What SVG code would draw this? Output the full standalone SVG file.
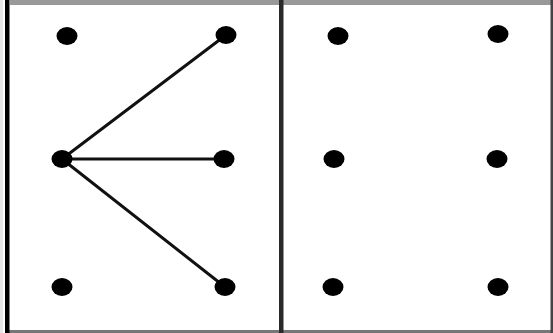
<svg xmlns="http://www.w3.org/2000/svg" width="553" height="333" viewBox="0 0 553 333">
<style>
.dot{fill:#000}
.edge{stroke:#111;stroke-width:3;fill:none;stroke-linecap:round}
</style>
<rect x="0" y="0" width="553" height="333" fill="#fff"/>
<rect x="0" y="0" width="3" height="333" fill="#e6e6e6"/>
<rect x="10" y="0" width="543" height="5" fill="#999"/>
<rect x="5" y="330" width="548" height="3" fill="#777"/>
<rect x="5" y="0" width="4.5" height="333" fill="#000"/>
<rect x="550.5" y="0" width="2.5" height="333" fill="#444"/>
<rect x="279" y="0" width="4.5" height="333" fill="#2a2a2a"/>
<g id="connectors">
<line class="edge" x1="62" y1="159" x2="226" y2="35"/>
<line class="edge" x1="62" y1="159" x2="224" y2="159"/>
<line class="edge" x1="62" y1="159" x2="225" y2="287"/>
</g>
<g id="n1"><ellipse class="dot" cx="67" cy="36" rx="10.5" ry="9"/></g>
<g id="n2"><ellipse class="dot" cx="226" cy="35" rx="10.5" ry="9"/></g>
<g id="n3"><ellipse class="dot" cx="62" cy="159" rx="10.5" ry="9"/></g>
<g id="n4"><ellipse class="dot" cx="224" cy="159" rx="10.5" ry="9"/></g>
<g id="n5"><ellipse class="dot" cx="62" cy="287" rx="10.5" ry="9"/></g>
<g id="n6"><ellipse class="dot" cx="225" cy="287" rx="10.5" ry="9"/></g>
<g id="n7"><ellipse class="dot" cx="338" cy="36" rx="10.5" ry="9"/></g>
<g id="n8"><ellipse class="dot" cx="498" cy="34" rx="10.5" ry="9"/></g>
<g id="n9"><ellipse class="dot" cx="334" cy="159" rx="10.5" ry="9"/></g>
<g id="n10"><ellipse class="dot" cx="497" cy="159" rx="10.5" ry="9"/></g>
<g id="n11"><ellipse class="dot" cx="333" cy="287" rx="10.5" ry="9"/></g>
<g id="n12"><ellipse class="dot" cx="498" cy="287" rx="10.5" ry="9"/></g>
</svg>
